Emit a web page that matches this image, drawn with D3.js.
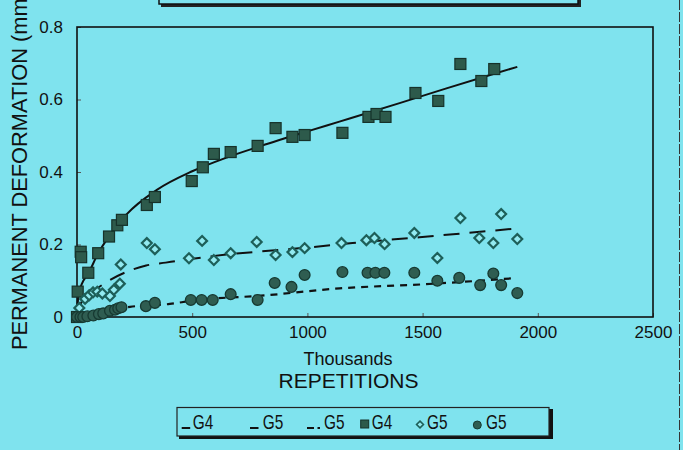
<!DOCTYPE html>
<html><head><meta charset="utf-8">
<script src="https://cdn.jsdelivr.net/npm/d3@7/dist/d3.min.js"></script>
<style>html,body{margin:0;padding:0;background:#7fe3ee;} svg{display:block;}</style>
</head><body><svg id="c" width="683" height="450"></svg>
<script>
// ---- data (x in thousands of repetitions, y in mm) ----
const xTicks = [0, 500, 1000, 1500, 2000, 2500];
const yTicks = [0, 0.2, 0.4, 0.6, 0.8];
const yTickLabels = ["0", "0.2", "0.4", "0.6", "0.8"];

const g4SquaresX = [0, 3, 16, 18, 49, 92, 139, 175, 195, 303, 338, 498, 546, 594, 667, 784, 862, 935, 988, 1152, 1265, 1300, 1339, 1469, 1568, 1664, 1755, 1811];
const g4SquaresY = [0, 0.07, 0.18, 0.165, 0.122, 0.176, 0.222, 0.253, 0.268, 0.309, 0.331, 0.375, 0.413, 0.45, 0.455, 0.472, 0.521, 0.497, 0.502, 0.508, 0.552, 0.56, 0.552, 0.618, 0.596, 0.698, 0.651, 0.684];

const g5DiamondsX = [10, 35, 53, 70, 88, 110, 143, 160, 186, 190, 303, 338, 486, 543, 594, 667, 780, 862, 935, 988, 1148, 1256, 1291, 1335, 1464, 1564, 1664, 1746, 1807, 1841, 1911];
const g5DiamondsY = [0.025, 0.05, 0.06, 0.068, 0.07, 0.065, 0.058, 0.075, 0.092, 0.145, 0.204, 0.187, 0.162, 0.21, 0.157, 0.176, 0.207, 0.171, 0.179, 0.19, 0.204, 0.212, 0.218, 0.201, 0.232, 0.163, 0.273, 0.218, 0.204, 0.284, 0.215];

const g5CirclesX = [0, 15, 27, 45, 71, 95, 114, 143, 165, 179, 193, 299, 338, 494, 541, 589, 667, 784, 858, 931, 988, 1152, 1261, 1295, 1334, 1464, 1564, 1659, 1750, 1807, 1841, 1911];
const g5CirclesY = [0, 0, 0, 0.002, 0.004, 0.008, 0.01, 0.017, 0.02, 0.024, 0.027, 0.03, 0.039, 0.047, 0.047, 0.047, 0.063, 0.047, 0.094, 0.083, 0.116, 0.124, 0.122, 0.122, 0.122, 0.122, 0.1, 0.108, 0.088, 0.12, 0.088, 0.066];

const g4FitX = [0, 6, 20, 49, 92, 143, 215, 345, 500, 650, 800, 1000, 1139, 1400, 1600, 1800, 1911];
const g4FitY = [0, 0.06, 0.09, 0.12, 0.176, 0.226, 0.283, 0.35, 0.402, 0.44, 0.472, 0.512, 0.539, 0.59, 0.63, 0.669, 0.69];

const g5FitX = [0, 13, 60, 120, 237, 300, 385, 460, 706, 763, 1023, 1196, 1486, 1889];
const g5FitY = [0, 0.033, 0.065, 0.093, 0.13, 0.142, 0.15, 0.157, 0.176, 0.179, 0.193, 0.204, 0.22, 0.243];

const g5bFitX = [0, 100, 230, 403, 500, 823, 1139, 1500, 1898];
const g5bFitY = [0, 0.012, 0.028, 0.036, 0.045, 0.06, 0.079, 0.09, 0.107];

const legendLabels = ["G4", "G5", "G5", "G4", "G5", "G5"];

// ---- drawing ----
const BG = "#7fe3ee";
const svg = d3.select("#c");
svg.append("rect").attr("width", 683).attr("height", 450).attr("fill", BG);

const x = d3.scaleLinear().domain([0, 2500]).range([77, 653]);
const y = d3.scaleLinear().domain([0, 0.8]).range([317, 27]);
const FONT = "'Liberation Sans', Arial, Helvetica, sans-serif";

// cut-off title box at top
svg.append("rect").attr("x", 161).attr("y", -20).attr("width", 420).attr("height", 27).attr("fill", "#222");
svg.append("rect").attr("x", 159).attr("y", -20).attr("width", 419).attr("height", 24).attr("fill", BG).attr("stroke", "#111").attr("stroke-width", 1.5);

// right picture border
svg.append("line").attr("x1", 679.5).attr("x2", 679.5).attr("y1", 0).attr("y2", 450)
  .attr("stroke", "#333").attr("stroke-width", 1).attr("stroke-dasharray", "10,2");

// axes with inside ticks
const xAxis = svg.append("g").attr("transform", "translate(0,317)")
  .call(d3.axisBottom(x).tickValues(xTicks).tickSizeInner(-4).tickSizeOuter(0).tickPadding(9).tickFormat(d3.format("d")));
xAxis.select(".domain").remove();
xAxis.selectAll("line").attr("stroke", "#555");
xAxis.selectAll("text").attr("font-family", FONT).attr("font-size", 17).attr("fill", "#111").attr("dy", "0.71em");

const yAxis = svg.append("g").attr("transform", "translate(77,0)")
  .call(d3.axisLeft(y).tickValues(yTicks).tickSizeInner(-4).tickSizeOuter(0).tickPadding(14).tickFormat((d, i) => yTickLabels[i]));
yAxis.select(".domain").remove();
yAxis.selectAll("line").attr("stroke", "#555");
yAxis.selectAll("text").attr("font-family", FONT).attr("font-size", 17).attr("fill", "#111");

// plot frame
svg.append("rect").attr("x", 77).attr("y", 27).attr("width", 576).attr("height", 290)
  .attr("fill", "none").attr("stroke", "#111").attr("stroke-width", 1.6);

// axis titles
svg.append("text").attr("x", 348).attr("y", 365).attr("text-anchor", "middle")
  .attr("font-family", FONT).attr("font-size", 18).attr("fill", "#111").text("Thousands");
svg.append("text").attr("x", 348.5).attr("y", 388).attr("text-anchor", "middle")
  .attr("font-family", FONT).attr("font-size", 21).attr("fill", "#111").text("REPETITIONS");
svg.append("text").attr("transform", "translate(27,350) rotate(-90)").attr("text-anchor", "start")
  .attr("font-family", FONT).attr("font-size", 21.8).attr("fill", "#111").text("PERMANENT DEFORMATION (mm)");

// fitted lines
const line = d3.line().x(d => x(d[0])).y(d => y(d[1])).curve(d3.curveMonotoneX);
const zip = (a, b) => a.map((v, i) => [v, b[i]]);
const plot = svg.append("g");
plot.append("path").datum(zip(g4FitX, g4FitY)).attr("d", line)
  .attr("fill", "none").attr("stroke", "#111").attr("stroke-width", 2);
plot.append("path").datum(zip(g5FitX, g5FitY)).attr("d", line)
  .attr("fill", "none").attr("stroke", "#111").attr("stroke-width", 2).attr("stroke-dasharray", "16,10");
plot.append("path").datum(zip(g5bFitX, g5bFitY)).attr("d", line)
  .attr("fill", "none").attr("stroke", "#111").attr("stroke-width", 2.2).attr("stroke-dasharray", "7,6");

// markers
const SQ = 11;
plot.selectAll("rect.g4").data(zip(g4SquaresX, g4SquaresY)).join("rect").attr("class", "g4")
  .attr("x", d => x(d[0]) - SQ / 2).attr("y", d => y(d[1]) - SQ / 2).attr("width", SQ).attr("height", SQ)
  .attr("fill", "#2d5a4b").attr("stroke", "#16322a").attr("stroke-width", 1.2);

const diamond = d3.symbol().type(d3.symbolDiamond2).size(62);
plot.selectAll("path.g5d").data(zip(g5DiamondsX, g5DiamondsY)).join("path").attr("class", "g5d")
  .attr("transform", d => `translate(${x(d[0])},${y(d[1])})`).attr("d", diamond)
  .attr("fill", "#92eaf0").attr("stroke", "#1d5f59").attr("stroke-width", 2.2);

plot.selectAll("circle.g5c").data(zip(g5CirclesX, g5CirclesY)).join("circle").attr("class", "g5c")
  .attr("cx", d => x(d[0])).attr("cy", d => y(d[1])).attr("r", 5.4)
  .attr("fill", "#2f5d51").attr("stroke", "#173a32").attr("stroke-width", 1.3);

// legend
const lg = svg.append("g");
lg.append("rect").attr("x", 179).attr("y", 409).attr("width", 374).attr("height", 30).attr("fill", "#111");
lg.append("rect").attr("x", 177).attr("y", 407.5).attr("width", 372).attr("height", 28.5)
  .attr("fill", BG).attr("stroke", "#222").attr("stroke-width", 1.2);
const symX = [181.7, 250, 307, 360.7, 416, 473];
const txtX = [192.7, 262.7, 324, 371.7, 427, 486];
const baseY = 428.5;
legendLabels.forEach((lab, i) => {
  lg.append("text").attr("x", txtX[i]).attr("y", baseY).attr("font-family", FONT).attr("font-size", 21)
    .attr("textLength", 20.5).attr("lengthAdjust", "spacingAndGlyphs").attr("fill", "#111").text(lab);
});
lg.append("line").attr("x1", symX[0]).attr("x2", symX[0] + 8.5).attr("y1", baseY - 0.5).attr("y2", baseY - 0.5).attr("stroke", "#111").attr("stroke-width", 2);
lg.append("line").attr("x1", symX[1]).attr("x2", symX[1] + 8.5).attr("y1", baseY - 0.5).attr("y2", baseY - 0.5).attr("stroke", "#111").attr("stroke-width", 2);
lg.append("line").attr("x1", symX[2]).attr("x2", symX[2] + 7).attr("y1", baseY - 0.5).attr("y2", baseY - 0.5).attr("stroke", "#111").attr("stroke-width", 2);
lg.append("line").attr("x1", symX[2] + 10.5).attr("x2", symX[2] + 13).attr("y1", baseY - 0.5).attr("y2", baseY - 0.5).attr("stroke", "#111").attr("stroke-width", 2);
lg.append("rect").attr("x", symX[3]).attr("y", baseY - 8.5).attr("width", 8).attr("height", 8)
  .attr("fill", "#2d5a4b").attr("stroke", "#16322a").attr("stroke-width", 1);
lg.append("path").attr("transform", `translate(${symX[4] + 4},${baseY - 4})`).attr("d", d3.symbol().type(d3.symbolDiamond2).size(30))
  .attr("fill", "#92eaf0").attr("stroke", "#1d5f59").attr("stroke-width", 1.6);
lg.append("circle").attr("cx", symX[5] + 4.3).attr("cy", baseY - 3.5).attr("r", 4)
  .attr("fill", "#2f5d51").attr("stroke", "#173a32").attr("stroke-width", 1);
</script></body></html>
